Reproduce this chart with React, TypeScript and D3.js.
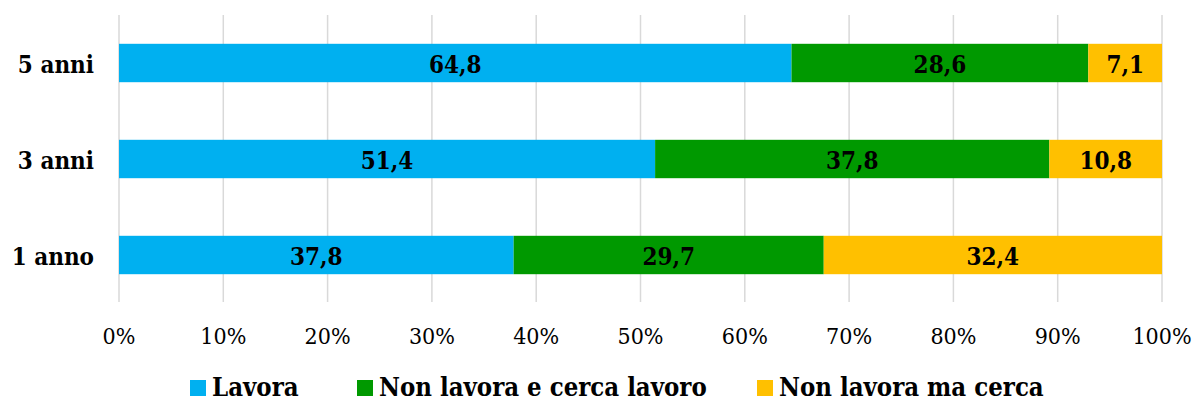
import React from "react";
import * as d3 from "d3";

const categories = ["5 anni", "3 anni", "1 anno"];
const seriesNames = ["Lavora", "Non lavora e cerca lavoro", "Non lavora ma cerca"];
const lavora = [64.8, 51.4, 37.8];
const cercaLavoro = [28.6, 37.8, 29.7];
const maCerca = [7.1, 10.8, 32.4];
const colors = ["#00B0F0", "#009900", "#FFC000"];
const ticks = [0, 10, 20, 30, 40, 50, 60, 70, 80, 90, 100];

export default function App() {
  const W = 1195, H = 401;
  const x = d3.scaleLinear().domain([0, 100]).range([119, 1162]);
  const y = d3.scaleBand().domain(categories).range([15, 303]).paddingInner(0.6).paddingOuter(0.3);
  const series = [lavora, cercaLavoro, maCerca];
  const fmt = (v: number) => v.toFixed(1).replace(".", ",");
  const legendX = [190, 357, 757];
  const serif = "'DejaVu Serif Condensed', 'DejaVu Serif', serif";
  const cond = { fontStretch: "condensed" } as React.CSSProperties;
  return (
    <svg width={W} height={H} style={{ position: "absolute", left: 0, top: 0, background: "#fff" }}>
      {ticks.map((t) => (
        <line key={t} x1={x(t)} x2={x(t)} y1={15} y2={302} stroke="#d9d9d9" strokeWidth={1.5} />
      ))}
      {categories.map((c, i) => {
        let acc = 0;
        const total = series.reduce((s, a) => s + a[i], 0);
        const cy = y(c)! + y.bandwidth() / 2;
        return (
          <g key={c}>
            {series.map((s, k) => {
              const v = (s[i] / total) * 100;
              const x0 = x(acc);
              acc += v;
              const x1 = x(acc);
              return (
                <g key={k}>
                  <rect x={x0} y={y(c)!} width={x1 - x0} height={y.bandwidth()} fill={colors[k]} />
                  <text x={(x0 + x1) / 2} y={cy + 9.5} textAnchor="middle" style={cond}
                    fontFamily={serif} fontWeight="bold" fontSize={24} fill="#000">{fmt(s[i])}</text>
                </g>
              );
            })}
            <text x={94} y={cy + 9.5} textAnchor="end" style={cond}
              fontFamily={serif} fontWeight="bold" fontSize={24} fill="#000">{c}</text>
          </g>
        );
      })}
      {ticks.map((t) => (
        <text key={t} x={x(t)} y={344} textAnchor="middle" style={cond} fontFamily={serif} fontSize={23} fill="#000">{t}%</text>
      ))}
      {seriesNames.map((n, k) => (
        <g key={n}>
          <rect x={legendX[k]} y={380} width={16} height={16} fill={colors[k]} />
          <text x={legendX[k] + 22} y={396} fontFamily={serif} fontWeight="bold" fontSize={25.5}
            style={cond} fill="#000">{n}</text>
        </g>
      ))}
    </svg>
  );
}
